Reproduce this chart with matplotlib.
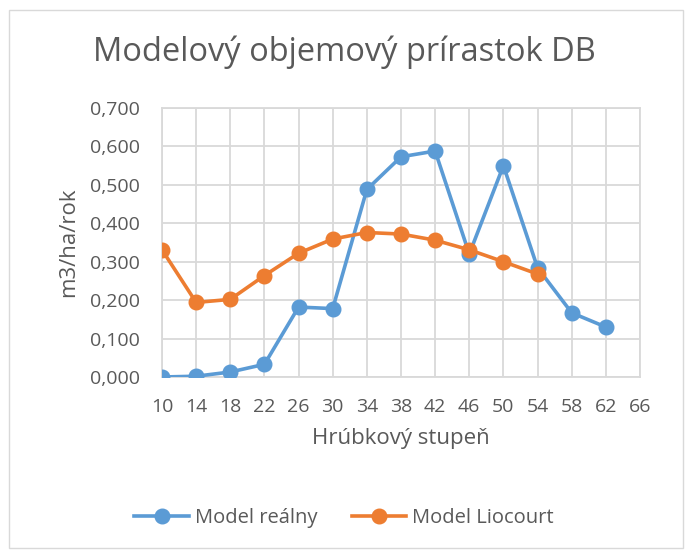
import matplotlib
matplotlib.use("Agg")
import matplotlib.pyplot as plt
from matplotlib.ticker import FuncFormatter, MultipleLocator
from matplotlib.patches import Rectangle

x_blue = [10, 14, 18, 22, 26, 30, 34, 38, 42, 46, 50, 54, 58, 62]
model_realny = [0.000, 0.002, 0.013, 0.033, 0.182, 0.178, 0.488, 0.573, 0.588, 0.320, 0.550, 0.284, 0.167, 0.130]
x_orange = [10, 14, 18, 22, 26, 30, 34, 38, 42, 46, 50, 54]
model_liocourt = [0.331, 0.194, 0.202, 0.264, 0.322, 0.359, 0.376, 0.372, 0.356, 0.331, 0.300, 0.268]
x_ticks = [10, 14, 18, 22, 26, 30, 34, 38, 42, 46, 50, 54, 58, 62, 66]

plt.rcParams['font.family'] = ['Open Sans', 'DejaVu Sans']
txt = '#595959'
grid_c = '#d9d9d9'

fig = plt.figure(figsize=(6.88, 5.5), dpi=100)
fig.patches.append(Rectangle((9/688, 2/550), 674/688, 538/550, transform=fig.transFigure,
                             fill=False, edgecolor='#d9d9d9', linewidth=1))
ax = fig.add_axes([162/688, 1-377/550, (640-162)/688, (377-108)/550])

ax.plot(x_blue, model_realny, color='#5B9BD5', lw=2.6, marker='o', ms=10.5, label='Model reálny', zorder=3)
ax.plot(x_orange, model_liocourt, color='#ED7D31', lw=2.6, marker='o', ms=10.5, label='Model Liocourt', zorder=3)

ax.set_xlim(10, 66)
ax.set_ylim(0, 0.7)
ax.set_xticks(x_ticks)
ax.yaxis.set_major_locator(MultipleLocator(0.1))
ax.yaxis.set_major_formatter(FuncFormatter(lambda v, p: f"{v:.3f}".replace('.', ',')))
ax.grid(True, color=grid_c, lw=1.3)
ax.set_axisbelow(True)
for s in ax.spines.values():
    s.set_color(grid_c)
    s.set_linewidth(1.3)
ax.tick_params(axis='both', length=0, labelsize=14, colors=txt)
ax.tick_params(axis='y', pad=16)
ax.tick_params(axis='x', pad=15)
ax.set_xlabel('Hrúbkový stupeň', fontsize=16, color=txt, labelpad=9)
ax.set_ylabel('m3/ha/rok', fontsize=16, color=txt, labelpad=8)
fig.text(0.5, 1-52/550, 'Modelový objemový prírastok DB', ha='center', va='center', fontsize=23.5, color=txt)
ax.legend(loc='center', bbox_to_anchor=(0.5, 1-518/550), bbox_transform=fig.transFigure, ncol=2,
          frameon=False, fontsize=14.5, labelcolor=txt, handlelength=2.7, handletextpad=0.3,
          columnspacing=1.7)
fig.savefig('out.png', dpi=100)
